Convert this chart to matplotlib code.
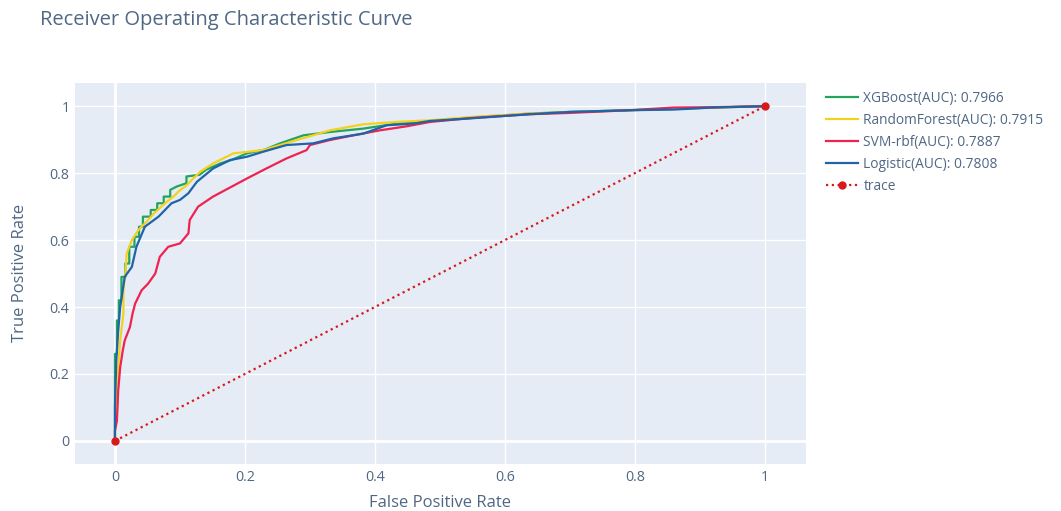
import matplotlib
matplotlib.use('Agg')
import matplotlib.pyplot as plt
import numpy as np

# # ROC curve points
xgb_fpr = [0, 0, 0.003, 0.003, 0.006, 0.006, 0.01, 0.01, 0.016, 0.016, 0.022, 0.022, 0.03, 0.03,
           0.037, 0.037, 0.043, 0.043, 0.055, 0.055, 0.065, 0.065, 0.075, 0.075, 0.085, 0.085,
           0.095, 0.11, 0.11, 0.13, 0.14, 0.162, 0.18, 0.203, 0.23, 0.254, 0.29, 0.331, 0.382,
           0.433, 0.485, 0.55, 0.638, 0.7, 0.792, 0.86, 0.92, 1]
xgb_tpr = [0, 0.26, 0.26, 0.36, 0.36, 0.42, 0.42, 0.49, 0.49, 0.53, 0.53, 0.58, 0.58, 0.61,
           0.61, 0.64, 0.64, 0.67, 0.67, 0.69, 0.69, 0.71, 0.71, 0.73, 0.73, 0.75,
           0.76, 0.77, 0.79, 0.795, 0.81, 0.829, 0.84, 0.859, 0.87, 0.889, 0.913, 0.923, 0.933,
           0.948, 0.956, 0.966, 0.978, 0.983, 0.988, 0.992, 0.996, 1]

rf_fpr = [0, 0, 0.003, 0.005, 0.008, 0.013, 0.013, 0.016, 0.018, 0.022, 0.026, 0.036, 0.051,
          0.06, 0.077, 0.09, 0.1, 0.108, 0.131, 0.151, 0.182, 0.228, 0.28, 0.331, 0.382, 0.433,
          0.485, 0.55, 0.638, 0.7, 0.792, 0.92, 1]
rf_tpr = [0, 0.05, 0.13, 0.22, 0.30, 0.38, 0.45, 0.50, 0.56, 0.58, 0.60, 0.63, 0.66,
          0.68, 0.71, 0.73, 0.749, 0.76, 0.804, 0.829, 0.859, 0.869, 0.899, 0.928, 0.946, 0.953,
          0.958, 0.968, 0.978, 0.982, 0.988, 0.996, 1]

svm_fpr = [0, 0, 0.003, 0.005, 0.008, 0.012, 0.015, 0.023, 0.027, 0.031, 0.041, 0.051, 0.062,
           0.069, 0.082, 0.1, 0.113, 0.115, 0.128, 0.151, 0.177, 0.203, 0.233, 0.264, 0.295,
           0.3, 0.331, 0.367, 0.408, 0.449, 0.485, 0.55, 0.638, 0.7, 0.792, 0.86, 0.92, 1]
svm_tpr = [0, 0.03, 0.06, 0.15, 0.22, 0.27, 0.30, 0.34, 0.38, 0.41, 0.45, 0.47, 0.50,
           0.55, 0.58, 0.59, 0.62, 0.66, 0.70, 0.73, 0.757, 0.784, 0.814, 0.844, 0.869,
           0.884, 0.899, 0.913, 0.928, 0.94, 0.953, 0.965, 0.976, 0.98, 0.988, 0.996, 0.997, 1]

log_fpr = [0, 0, 0.002, 0.005, 0.008, 0.015, 0.026, 0.033, 0.046, 0.067, 0.087, 0.1, 0.113,
           0.126, 0.151, 0.177, 0.203, 0.228, 0.264, 0.305, 0.336, 0.382, 0.418, 0.459, 0.485,
           0.55, 0.638, 0.7, 0.792, 0.86, 0.92, 1]
log_tpr = [0, 0.10, 0.24, 0.33, 0.40, 0.49, 0.52, 0.58, 0.64, 0.67, 0.71, 0.72, 0.74,
           0.774, 0.814, 0.839, 0.849, 0.864, 0.884, 0.889, 0.904, 0.918, 0.943, 0.948, 0.956,
           0.964, 0.976, 0.983, 0.988, 0.99, 0.996, 1]

labels = ['XGBoost(AUC): 0.7966', 'RandomForest(AUC): 0.7915',
          'SVM-rbf(AUC): 0.7887', 'Logistic(AUC): 0.7808']
colors = ['#22a45d', '#f2d21f', '#f0224f', '#1f63a8']
diag = [0, 1]

txt = '#506784'
plt.rcParams['font.family'] = ['Open Sans', 'DejaVu Sans']

fig = plt.figure(figsize=(10.61, 5.11), dpi=100)
ax = fig.add_axes([0.0707, 0.092, 0.6887, 0.746])
ax.set_facecolor('#E5ECF6')

curves = [(xgb_fpr, xgb_tpr), (rf_fpr, rf_tpr), (svm_fpr, svm_tpr), (log_fpr, log_tpr)]
for (fx, ty), lab, c in zip(curves, labels, colors):
    ax.plot(fx, ty, color=c, lw=1.6, label=lab, zorder=3)
ax.plot(diag, diag, color='#d7191c', lw=1.6, ls=(0, (1, 1.6)), marker='o', ms=5,
        label='trace', zorder=4)

ax.set_xlim(-0.0615, 1.063)
ax.set_ylim(-0.069, 1.07)
ax.set_xticks([0, 0.2, 0.4, 0.6, 0.8, 1])
ax.set_xticklabels(['0', '0.2', '0.4', '0.6', '0.8', '1'])
ax.set_yticks([0, 0.2, 0.4, 0.6, 0.8, 1])
ax.set_yticklabels(['0', '0.2', '0.4', '0.6', '0.8', '1'])
ax.grid(color='white', lw=1, zorder=0)
ax.set_axisbelow(True)
ax.axvline(0, color='white', lw=2, zorder=1)
ax.axhline(0, color='white', lw=2, zorder=1)
for s in ax.spines.values():
    s.set_visible(False)
ax.tick_params(length=0, labelsize=10.3, colors=txt)
ax.tick_params(axis='x', pad=4)
ax.tick_params(axis='y', pad=4)

ax.set_xlabel('False Positive Rate', fontsize=12, color=txt)
ax.xaxis.set_label_coords(0.5, -0.102)
ax.xaxis.label.set_va('center')
ax.set_ylabel('True Positive Rate', fontsize=12, color=txt)
ax.yaxis.set_label_coords(-0.075, 0.5)
ax.yaxis.label.set_va('center')
fig.text(0.038, 0.96, 'Receiver Operating Characteristic Curve', fontsize=14.5,
         color=txt, va='center', ha='left')

leg = ax.legend(loc='upper left', bbox_to_anchor=(1.028, 0.978), frameon=False,
                fontsize=9.9, handlelength=2.3, labelspacing=0.5, handletextpad=0.4,
                borderaxespad=0, borderpad=0)
for t in leg.get_texts():
    t.set_color(txt)

fig.savefig('out.png', dpi=100)
